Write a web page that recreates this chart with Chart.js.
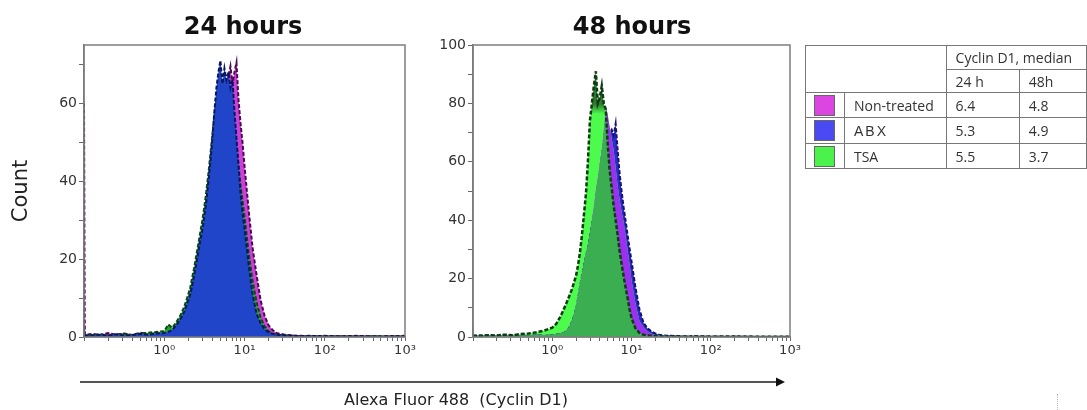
<!DOCTYPE html>
<html>
<head>
<meta charset="utf-8">
<title>Cyclin D1</title>
<script src="https://cdn.jsdelivr.net/npm/chart.js@4.4.1/dist/chart.umd.min.js"></script>
<style>
  html, body { margin: 0; padding: 0; background: #fff; }
  #wrap { position: relative; width: 1087px; height: 410px; overflow: hidden; font-family: "DejaVu Sans", sans-serif; }
  canvas { position: absolute; top: 0; }
  #c24 { left: 0; }
  #c48 { left: 420px; }
  svg { position: absolute; left: 0; top: 0; }
  .title { position: absolute; top: 12px; font-weight: bold; font-size: 24px; line-height: 28px; color: #111; transform: translateX(-50%); white-space: nowrap; }
  #count { position: absolute; left: 20px; top: 191px; font-size: 21px; color: #222; transform: translate(-50%, -50%) rotate(-90deg); }
  #xtitle { position: absolute; left: 456px; top: 390px; font-size: 16px; line-height: 19px; color: #222; transform: translateX(-50%); white-space: pre; }
  #dots { position: absolute; left: 1057px; top: 394px; height: 16px; border-left: 1px dotted #bbb; }
  table { position: absolute; left: 805px; top: 45px; border-collapse: collapse; font-family: "Open Sans", sans-serif; font-size: 14px; color: #333; border: 1.5px solid #555; }
  td { border: 1px solid #777; padding: 0 0 0 9px; white-space: nowrap; }
  td.sw { padding: 0 0 0 8px; }
  .box { width: 19px; height: 19px; border: 1px solid #666; }
  .abx { font-family: "Liberation Sans", sans-serif; letter-spacing: 2px; }
</style>
</head>
<body>
<div id="wrap">
  <canvas id="c24" width="420" height="370"></canvas>
  <canvas id="c48" width="385" height="370"></canvas>
  <div class="title" style="left:243px">24 hours</div>
  <div class="title" style="left:632px">48 hours</div>
  <div id="count">Count</div>
  <svg width="1087" height="410">
    <line x1="80" y1="382" x2="777" y2="382" stroke="#555" stroke-width="2"/>
    <polygon points="776,377.5 785,382 776,386.5" fill="#111"/>
  </svg>
  <div id="xtitle">Alexa Fluor 488  (Cyclin D1)</div>
  <table id="tbl"></table>
  <div id="dots"></div>
</div>
<script>
// histogram bin centres, in decades (log10 of fluorescence)
const binLog = [-1, -0.99, -0.9, -0.8, -0.7, -0.6, -0.5, -0.4, -0.3, -0.2, -0.1,
  0, 0.05, 0.1, 0.15, 0.2, 0.25, 0.3,
  0.325, 0.35, 0.375, 0.4, 0.425, 0.45, 0.475, 0.5, 0.525, 0.55, 0.575, 0.6, 0.625, 0.65, 0.675,
  0.7, 0.725, 0.75, 0.775, 0.8, 0.825, 0.85, 0.875, 0.9, 0.925, 0.95, 0.975, 1.0,
  1.05, 1.1, 1.15, 1.2, 1.25, 1.3, 1.35, 1.4,
  1.5, 1.6, 1.7, 1.8,
  2.0, 2.2, 2.4, 2.6, 2.8, 3.0];

// 24 hours
const nonTreated24 = [60, 0.6, 0.8, 0.5, 1.0, 0.6, 0.9, 0.5, 1.1, 0.7, 0.9,
  0.9, 1.1, 1.4, 2.3, 3.6, 5.4, 8,
  9.5, 11.5, 14, 16.5, 19.5, 22.5, 25.5, 28.5, 32, 36, 41, 46, 52, 57, 61,
  64, 62, 66, 63, 67, 69.5, 65, 68, 70.5, 61, 55, 50, 44,
  33, 23, 16, 9.5, 5.5, 3, 1.8, 1.0,
  0.6, 0.4, 0.3, 0.2,
  0.3, 0.2, 0.3, 0.2, 0.2, 0.3];
const abx24 = [2, 0.4, 0.4, 0.6, 0.3, 0.7, 0.4, 0.5, 0.8, 0.6, 0.9,
  1.0, 1.3, 1.8, 3.0, 4.5, 6.5, 9.5,
  11, 13.5, 16, 19, 22, 25, 27.5, 31, 35, 40, 45, 51, 58, 64, 68,
  71, 65, 69, 66, 68, 64, 66, 58, 51, 44, 37, 32, 28,
  19, 11, 6, 3.5, 2, 1.2, 0.8, 0.6,
  0.4, 0.3, 0.2, 0.3,
  0.2, 0.1, 0.2, 0.1, 0.2, 0.1];
const tsa24 = [1, 0.5, 0.5, 0.7, 0.4, 0.6, 0.8, 0.5, 0.9, 1.1, 1.3,
  1.5, 3.2, 2.4, 3.8, 5.5, 7.8, 11,
  12.8, 15.5, 18, 21, 24, 27, 30, 33.5, 37.5, 42, 47, 52, 57, 61, 63,
  66, 62, 65, 61, 64, 60, 62, 55, 50, 44, 39, 35, 31,
  22, 14.5, 9, 5, 2.8, 1.5, 0.9, 0.6,
  0.4, 0.3, 0.2, 0.2,
  0.1, 0.2, 0.1, 0.2, 0.1, 0.1];

// 48 hours
const nonTreated48 = [7.3, 0.5, 0.6, 0.4, 0.7, 0.5, 0.8, 0.4, 0.6, 0.9, 0.7,
  0.9, 1.1, 1.4, 1.8, 3, 6, 11,
  15, 19, 22.5, 26, 29, 32, 36, 41, 45, 51, 55, 60, 65, 72, 79,
  76, 72, 68, 64, 58, 52, 47, 43, 39.5, 35, 30, 25, 19.5,
  11.5, 5.5, 3.5, 2, 1.2, 0.7, 0.5, 0.4,
  0.3, 0.2, 0.3, 0.2,
  0.2, 0.1, 0.2, 0.1, 0.1, 0.1];
const abx48 = [0.8, 0.4, 0.5, 0.6, 0.4, 0.7, 0.5, 0.8, 0.6, 0.9, 0.8,
  0.9, 1.1, 1.4, 1.7, 2.8, 5.5, 10,
  14, 18, 21.5, 25, 28, 31, 35, 39, 42, 47, 52, 57, 62, 67, 70,
  72, 70, 71, 69, 73, 64, 56, 50, 44.5, 40, 35, 30.5, 26,
  17, 9.5, 5, 3, 2, 1.2, 0.8, 0.5,
  0.4, 0.3, 0.2, 0.3,
  0.2, 0.1, 0.2, 0.1, 0.1, 0.1];
const tsa48 = [0.5, 0.4, 0.4, 0.6, 0.5, 0.8, 0.6, 1.0, 1.2, 1.6, 2.2,
  3.2, 4.5, 6.8, 9.8, 13, 16.5, 21,
  24.5, 29, 35, 42, 49, 60, 74, 80, 86, 91, 80, 82, 86, 80, 78,
  66, 57, 51, 45, 40, 35, 29.5, 25, 21, 17, 13.5, 9.5, 6.5,
  3, 1.4, 0.8, 0.5, 0.4, 0.3, 0.3, 0.2,
  0.2, 0.1, 0.2, 0.1,
  0.1, 0.2, 0.1, 0.1, 0.1, 0.1];

// axes
const xDecades = [0.1, 1, 10, 100];
const xMinor = [1, 2, 3, 4, 5, 6, 7, 8, 9];
const xLabels = { 1: '10⁰', 10: '10¹', 100: '10²', 1000: '10³' };
const yLabels24 = [0, 20, 40, 60];
const yLabels48 = [0, 20, 40, 60, 80, 100];

// table
const groups = ['Non-treated', 'ABX', 'TSA'];
const timeLabels = ['24 h', '48h'];
const median24 = ['6.4', '5.3', '5.5'];
const median48 = ['4.8', '4.9', '3.7'];

const swatch = { 'Non-treated': '#dd45e3', 'ABX': '#4a4af2', 'TSA': '#4cf24c' };

const xTickValues = [];
xDecades.forEach(d => xMinor.forEach(m => xTickValues.push(d * m)));
xTickValues.push(1000);

function pts(values) {
  return values.map((v, i) => ({ x: Math.pow(10, binLog[i]), y: v }));
}

const frame = {
  id: 'frame',
  afterDraw(chart) {
    const { ctx, chartArea: a } = chart;
    ctx.save();
    ctx.strokeStyle = '#7d7d7d';
    ctx.lineWidth = 1.5;
    ctx.strokeRect(a.left, a.top, a.right - a.left, a.bottom - a.top);
    ctx.restore();
  }
};

function makeChart(id, datasets, yMax, yLabels, yWidth) {
  return new Chart(document.getElementById(id), {
    type: 'line',
    data: { datasets },
    options: {
      responsive: false,
      animation: false,
      events: [],
      layout: { padding: { top: 45, right: 15, left: 0, bottom: 0 } },
      plugins: { legend: { display: false }, tooltip: { enabled: false } },
      elements: { point: { radius: 0 }, line: { tension: 0, borderWidth: 2 } },
      scales: {
        x: {
          type: 'logarithmic', min: 0.1, max: 1000,
          afterBuildTicks: s => { s.ticks = xTickValues.map(v => ({ value: v })); },
          afterFit: s => { s.height = 33; },
          ticks: {
            autoSkip: false, maxRotation: 0, padding: 2, color: '#333',
            font: { family: 'DejaVu Sans', size: 13 },
            callback: v => xLabels[v] || ''
          },
          grid: { drawOnChartArea: false, tickLength: 4, color: '#666' },
          border: { color: '#777', width: 1.5 }
        },
        y: {
          min: 0, max: yMax,
          afterFit: s => { s.width = yWidth; },
          ticks: {
            stepSize: 10, includeBounds: false, padding: 2, color: '#333',
            font: { family: 'DejaVu Sans', size: 14 },
            callback: v => yLabels.includes(v) ? String(v) : ''
          },
          grid: { drawOnChartArea: false, tickLength: 5, color: '#666' },
          border: { color: '#777', width: 1.5 }
        }
      }
    },
    plugins: [frame]
  });
}

// 24 h: first dataset is drawn on top
makeChart('c24', [
  { label: 'ABX', data: pts(abx24), fill: 'origin', backgroundColor: '#2145c8', borderColor: '#0b1660', borderDash: [4, 2] },
  { label: 'TSA', data: pts(tsa24), fill: 'origin', backgroundColor: '#23a334', borderColor: '#0d4a12', borderDash: [4, 2] },
  { label: 'Non-treated', data: pts(nonTreated24), fill: 'origin', backgroundColor: '#cc3fd8', borderColor: '#4a0a50', borderDash: [4, 2] }
], 75, yLabels24, 84);

// 48 h: green where TSA overlaps the others, bright where TSA stands alone
const g = document.getElementById('c48').getContext('2d').createLinearGradient(0, 104, 0, 114);
g.addColorStop(0, '#2f7a2f');
g.addColorStop(1, '#4dfb4d');

makeChart('c48', [
  { label: 'TSA', data: pts(tsa48), fill: { target: 1, above: g, below: '#9b30f0' }, backgroundColor: '#4dfb4d', borderColor: '#0c3c10', borderWidth: 2.5, borderDash: [4, 2] },
  { label: 'Non-treated', data: pts(nonTreated48), fill: 'origin', backgroundColor: '#3cae52', borderColor: 'rgba(0,0,0,0)' },
  { label: 'ABX', data: pts(abx48), fill: 'origin', backgroundColor: '#2b2bd0', borderColor: '#14146e', borderDash: [4, 2] }
], 100, yLabels48, 53);

// legend table
const tbl = document.getElementById('tbl');
tbl.innerHTML =
  '<tr style="height:24px"><td colspan="2" rowspan="2" style="width:130px"></td>' +
  '<td colspan="2">Cyclin D1, median</td></tr>' +
  '<tr style="height:23px">' + timeLabels.map((t, i) => '<td style="width:' + (i ? 58 : 64) + 'px">' + t + '</td>').join('') + '</tr>' +
  groups.map((grp, i) =>
    '<tr style="height:' + (i === 1 ? 26 : 25) + 'px"><td class="sw" style="width:31px"><div class="box" style="background:' + swatch[grp] + '"></div></td>' +
    '<td style="width:93px"' + (grp === 'ABX' ? ' class="abx"' : '') + '>' + grp + '</td>' +
    '<td>' + median24[i] + '</td><td>' + median48[i] + '</td></tr>').join('');
</script>
</body>
</html>
